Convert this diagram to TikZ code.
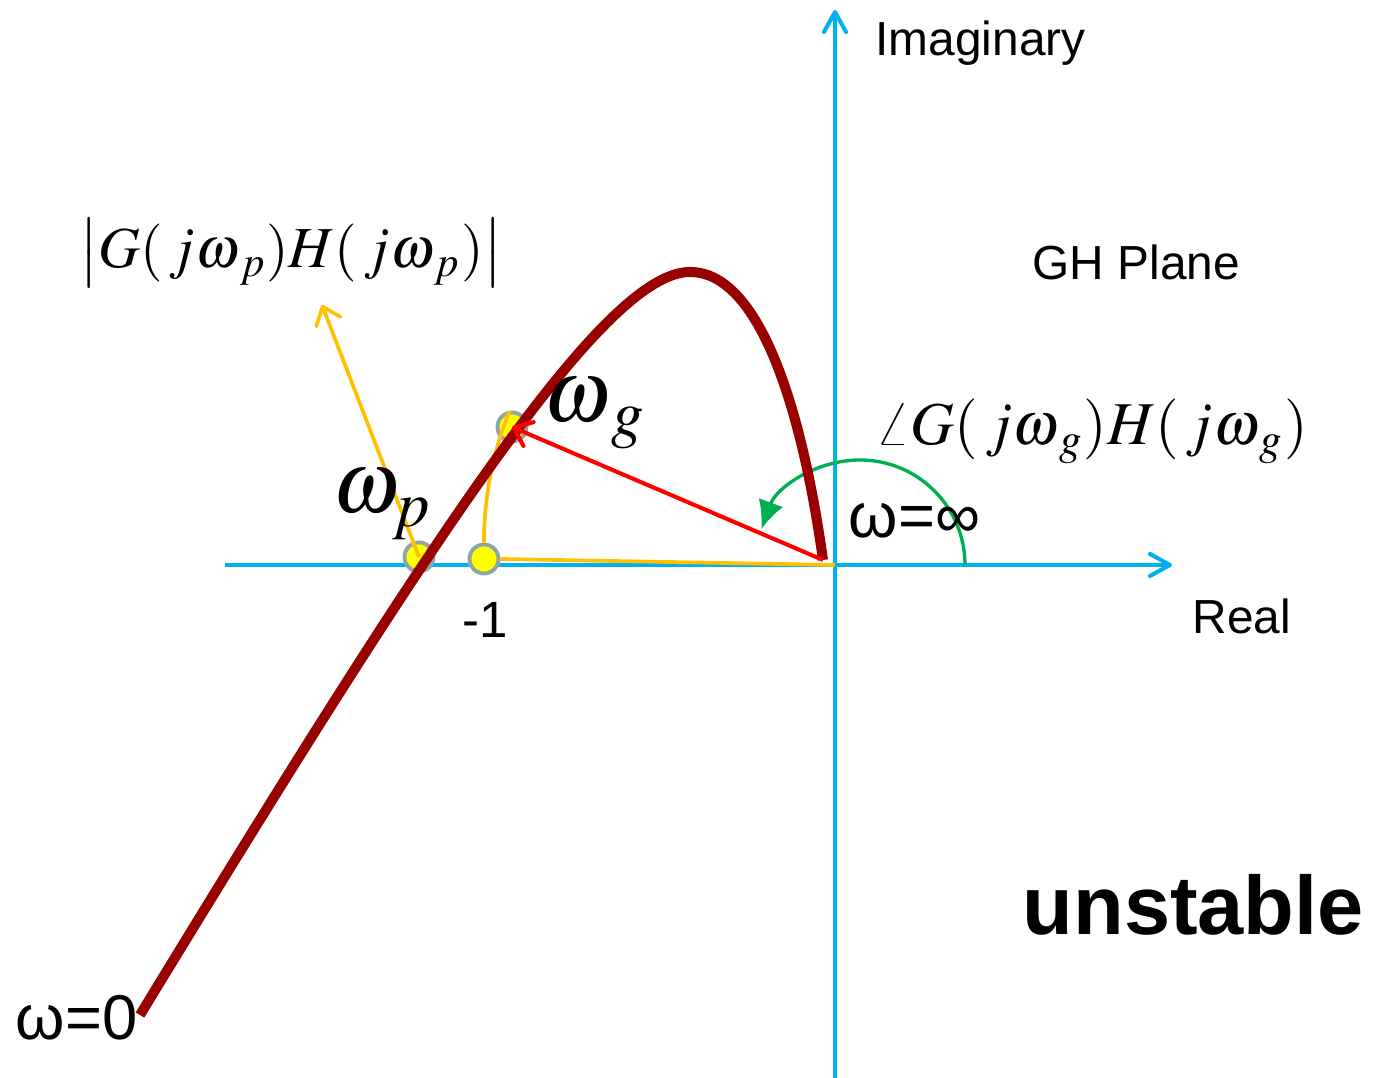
\documentclass[tikz,border=0pt]{standalone}
\usepackage{mathptmx}
\usepackage[no-math]{fontspec}
\setmainfont{Liberation Sans}
\usepackage{tikz}
\usetikzlibrary{arrows.meta,calc,positioning}

\definecolor{axisblue}{HTML}{00B0F0}
\definecolor{locusred}{HTML}{990000}
\definecolor{dotyellow}{HTML}{FFFF00}
\definecolor{dotgray}{HTML}{8EA4A8}
\definecolor{magorange}{HTML}{FFC000}
\definecolor{phasegreen}{HTML}{00B050}

\begin{document}
\begin{tikzpicture}[
    axis/.style={axisblue, line width=1.15pt,
      -{Straight Barb[length=2mm, width=2.2mm, round]}},
    locus/.style={locusred, line width=2.85pt},
    ptdot/.style={circle, fill=dotyellow, draw=dotgray, line width=1.1pt,
      inner sep=0pt, minimum size=2.9mm},
    magline/.style={magorange, line width=1.05pt},
    magarr/.style={magline, -{Straight Barb[length=1.6mm, width=2.6mm, round]}},
    vecarr/.style={red, line width=1.15pt,
      -{Straight Barb[length=1.6mm, width=2.6mm, round]}},
    phasearr/.style={phasegreen, line width=0.95pt,
      -{Latex[length=2.8mm, width=2.6mm]}},
    lbl/.style={font=\fontsize{13.6}{16}\selectfont, inner sep=0pt},
    wlbl/.style={font=\fontsize{18}{21}\selectfont, inner sep=0pt},
    mlbl/.style={font=\fontsize{16.5}{19}\selectfont},
  ]
  \useasboundingbox (-8.35,-5.13) rectangle (5.41,5.65);

  % ── Axes ─────────────────────────────────────────────────────────────────
  \coordinate (O)     at (0,0);
  \coordinate (reL)   at (-6.10,0);
  \coordinate (reR)   at (3.37,0);
  \coordinate (imB)   at (0,-5.13);
  \coordinate (imT)   at (0,5.55);
  \draw[axis] (reL) -- (reR);
  \draw[axis] (imB) -- (imT);

  % ── Points ───────────────────────────────────────────────────────────────
  \node[ptdot] (wp) at (-4.16,0.08) {};
  \node[ptdot] (m1) at (-3.51,0.06) {};
  \node[ptdot] (wg) at (-3.23,1.38) {};
  \coordinate (w0)     at (-6.95,-4.50);
  \coordinate (peak)   at (-1.45,2.93);
  \coordinate (winf)   at (-0.12,0.05);
  \coordinate (magtip) at (-5.13,2.60);
  \coordinate (gc)     at (0.25,0);

  % ── Magnitude / phase marks ──────────────────────────────────────────────
  \draw[magline] (m1.east) -- (O);
  \draw[magline] (m1.north) arc[start angle=180, end angle=158, radius=3.51];
  \draw[magarr] (wp.center) -- (magtip);
  \draw[phasearr] ($(gc)+(1.05,0)$) arc[start angle=0, end angle=160, radius=1.05];

  % ── Nyquist locus ────────────────────────────────────────────────────────
  \draw[locus] (w0) .. controls (-4.0,0.34) and (-2.3,2.93) .. (peak)
                    .. controls (-0.7,2.93) and (-0.30,1.35) .. (winf);
  \draw[vecarr] (winf) -- (wg.center);

  % ── Labels ───────────────────────────────────────────────────────────────
  \node[lbl, anchor=base west] (imlbl) at (0.40,5.09) {Imaginary};
  \node[lbl, anchor=base west] (ghlbl) at (1.97,2.85) {GH Plane};
  \node[lbl, anchor=base west] (relbl) at (3.57,-0.69) {Real};
  \node[lbl, anchor=base, font=\fontsize{14.5}{17}\selectfont] (m1lbl) at (-3.50,-0.73) {-1};
  \node[wlbl, anchor=base west] (winflbl) at (0.13,0.27) {ω=∞};
  \node[wlbl, anchor=base west] (w0lbl) at (-8.20,-4.75) {ω=0};
  \node[anchor=base west, inner sep=0pt, font=\fontsize{23.6}{28}\bfseries] (unst) at (1.87,-3.70) {unstable};

  \node[mlbl] (maglbl) at (-5.44,3.12)
    {$\left|G(\,j\omega_{\,p})H(\,j\omega_{\,p})\right|$};
  \node[mlbl, anchor=base west, inner sep=0pt, font=\fontsize{17.3}{20}\selectfont] (anglbl) at (0.40,1.20)
    {$\angle G(\,j\omega_{\,g})H(\,j\omega_{\,g})$};
  \node[anchor=base west, inner sep=0pt, font=\fontsize{25}{30}\selectfont] (wglbl) at (-2.92,1.43) {$\omega_{\,g}$};
  \node[anchor=base west, inner sep=0pt, font=\fontsize{25}{30}\selectfont] (wplbl) at (-5.03,0.52) {$\omega_{p}$};
\end{tikzpicture}
\end{document}
